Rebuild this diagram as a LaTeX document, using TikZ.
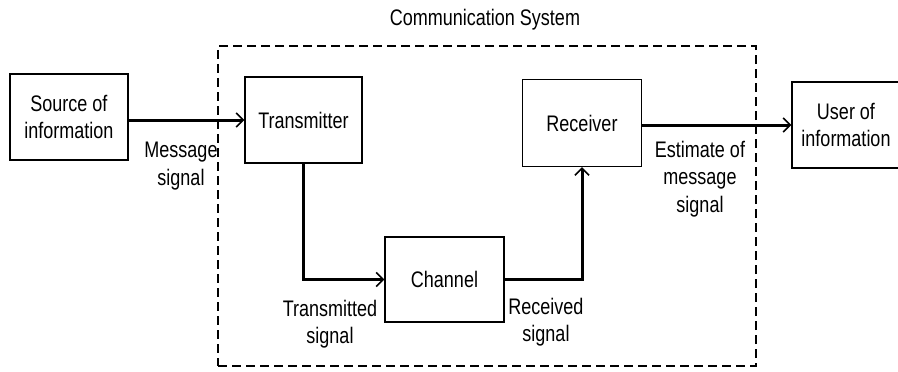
\documentclass[tikz,border=0pt]{standalone}
\usepackage{fontspec}
\setmainfont[FakeStretch=0.8]{Liberation Sans}
\usetikzlibrary{arrows.meta}
\begin{document}
\begin{tikzpicture}[x=1pt,y=-1pt,
  txt/.style={font=\fontsize{22.5}{27.5}\selectfont, align=center, inner sep=0pt},
  blockbox/.style={draw, line width=1.4pt, txt},
  sysbox/.style={draw, line width=1.1pt, dash pattern=on 9pt off 5pt},
  sig/.style={line width=3pt, -{Straight Barb[length=7pt,width=14pt,line width=1.6pt]}}]
\useasboundingbox (0,0) rectangle (898,372);
% system frame
\node[sysbox, minimum width=538pt, minimum height=320pt] (sys) at (487,206) {};
\node[txt] (title) at (485,20) {Communication System};
% blocks
\node[blockbox, minimum width=118pt, minimum height=86pt] (src) at (69,117) {Source of\\information};
\node[blockbox, minimum width=117pt, minimum height=86pt] (tx) at (303.5,120) {Transmitter};
\node[blockbox, minimum width=119pt, minimum height=87pt] (rx) at (582,123) {Receiver};
\node[blockbox, minimum width=108pt, minimum height=86pt] (usr) at (846,125) {User of\\information};
\node[blockbox, minimum width=119pt, minimum height=85pt] (ch) at (444.5,279.5) {Channel};
% connectors
\draw[sig] (src.east |- tx.west) -- (tx.west);
\draw[sig] (tx.south) -- (tx.south |- ch.west) -- (ch.west);
\draw[sig] (ch.east) -- (rx.south |- ch.east) -- (rx.south);
\draw[sig] (rx.east |- usr.west) -- (usr.west);
% labels
\node[txt] (lmsg) at (181,166) {Message\\signal};
\node[txt] (ltx) at (330,324) {Transmitted\\signal};
\node[txt] (lrx) at (546,322) {Received\\signal};
\node[txt] (lest) at (700,179) {Estimate of\\message\\signal};
\end{tikzpicture}
\end{document}
